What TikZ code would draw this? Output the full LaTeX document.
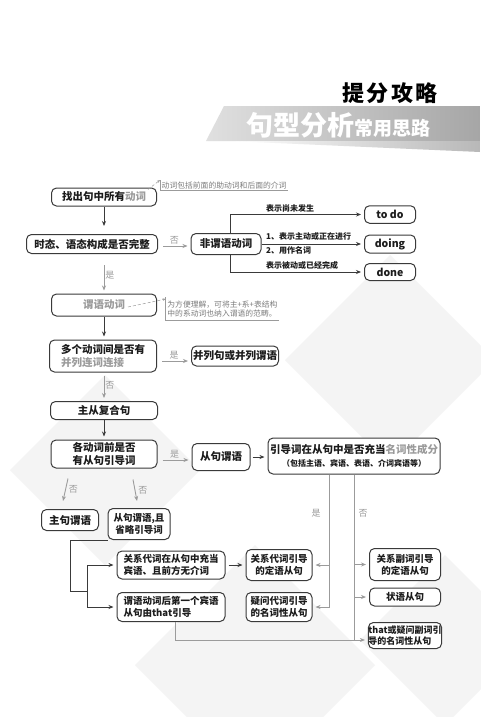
\documentclass[tikz,border=0pt]{standalone}
\usepackage{fontspec}
\setmainfont{Noto Sans CJK SC}
\usepackage{tikz}
\usetikzlibrary{
  arrows.meta,
  positioning,
  calc
}
\definecolor{fcLine}{HTML}{3A3A3A}
\definecolor{fcText}{HTML}{1C1C1C}
\definecolor{fcMute}{HTML}{9B9B9B}
\definecolor{fcBand}{HTML}{A6A6A6}
\definecolor{fcBack}{HTML}{F4F4F4}
\tikzset{
  fcbox/.style={
    draw=fcLine, line width=1pt, rounded corners=5pt, fill=white,
    inner sep=0pt, align=center, text=fcText,
    font=\bfseries\fontsize{10.5}{13}\selectfont
  },
  fcsmall/.style={fcbox, font=\bfseries\fontsize{9.5}{12}\selectfont},
  headline/.style={font=\bfseries\fontsize{22}{22}\selectfont\addfontfeature{LetterSpace=12}, text=black},
  bannertext/.style={font=\bfseries, text=white, inner sep=0pt},
  backdrop/.style={fill=fcBack, draw=none},
  flow/.style={-{Stealth[length=5pt, width=4pt]}, line width=0.9pt, fcLine, shorten >=3pt},
  flowmute/.style={-{Stealth[length=5pt, width=4pt]}, line width=0.9pt, fcMute, shorten >=3pt},
  link/.style={line width=0.9pt, fcLine},
  linkmute/.style={line width=0.9pt, fcMute},
  tag/.style={font=\bfseries\fontsize{8}{9}\selectfont, text=fcText, inner sep=1pt, anchor=west},
  yesno/.style={font=\fontsize{9}{10}\selectfont, text=fcMute, inner sep=1pt},
  note/.style={font=\fontsize{7.8}{9}\selectfont, text=fcMute!80!black, align=left, inner sep=1.5pt},
  notelink/.style={densely dashed, fcMute, line width=0.5pt, -{Stealth[length=3pt, width=2.5pt]}},
  notebar/.style={fcMute, line width=0.6pt}
}

\begin{document}
\begin{tikzpicture}[x=1pt, y=-1pt]
  \useasboundingbox (0,0) rectangle (480,717);
  \fill[white] (0,0) rectangle (480,717);
  \foreach \cx/\cy/\r in {390/360/105, 105/470/95, 255/665/120, 445/640/85}{
    \fill[backdrop] (\cx-\r,\cy) -- (\cx,\cy-\r) -- (\cx+\r,\cy) -- (\cx,\cy+\r) -- cycle;
  }

  % heading
  \node[headline] (head) at (390,93) {提分攻略};
  \shade[left color=fcBand!35, right color=fcBand] (224,106) -- (480,106) -- (480,141) -- (206,141) -- cycle;
  \shade[left color=white, right color=fcBand!80] (230,141) -- (480,141) -- (480,152) -- cycle;
  \node[bannertext, anchor=base west] (banner) at (246,135)
    {{\fontsize{27}{27}\selectfont 句型分析}{\fontsize{19}{19}\selectfont 常用思路}};

  % boxes
  \node[fcbox, minimum width=105pt, minimum height=18pt] (find) at (104,197) {找出句中所有\textcolor{fcMute}{动词}};
  \node[fcbox, minimum width=131pt, minimum height=19pt] (tense) at (92,244) {时态、语态构成是否完整};
  \node[fcbox, minimum width=70pt, minimum height=21pt] (nonpred) at (226,244) {非谓语动词};
  \node[fcbox, minimum width=51pt, minimum height=17.5pt] (todo) at (390,214.5) {to do};
  \node[fcbox, minimum width=51pt, minimum height=18pt] (doing) at (390,244) {doing};
  \node[fcbox, minimum width=51pt, minimum height=17pt] (done) at (390,272) {done};
  \node[fcbox, minimum width=105pt, minimum height=22pt, text=fcMute] (pred) at (104,305) {谓语动词};
  \node[fcbox, minimum width=107pt, minimum height=32pt, align=left] (multi) at (103,356)
    {多个动词间是否有\\\textcolor{fcMute}{并列连词连接}};
  \node[fcbox, minimum width=87pt, minimum height=20pt] (coord) at (235,356) {并列句或并列谓语};
  \node[fcbox, minimum width=107pt, minimum height=18pt] (complex) at (104,410.5) {主从复合句};
  \node[fcbox, minimum width=106pt, minimum height=28pt] (intro) at (104,454) {各动词前是否\\有从句引导词};
  \node[fcbox, minimum width=58pt, minimum height=27pt] (subpred) at (221,457) {从句谓语};
  \node[fcbox, minimum width=172pt, minimum height=36pt] (role) at (354,456)
    {引导词在从句中是否充当\textcolor{fcMute}{名词性成分}\\{\fontsize{8}{11}\selectfont（包括主语、宾语、表语、介词宾语等）}};
  \node[fcbox, minimum width=57pt, minimum height=21pt] (mainpred) at (70,520) {主句谓语};
  \node[fcsmall, minimum width=62pt, minimum height=31pt] (omit) at (139,524) {从句谓语,且\\省略引导词};
  \node[fcsmall, minimum width=108pt, minimum height=28pt, align=left] (relobj) at (171,565)
    {关系代词在从句中充当\\宾语、且前方无介词};
  \node[fcsmall, minimum width=108pt, minimum height=29pt, align=left] (thatobj) at (171,607)
    {谓语动词后第一个宾语\\从句由that引导};
  \node[fcsmall, minimum width=66pt, minimum height=31pt] (relattr) at (279,565) {关系代词引导\\的定语从句};
  \node[fcsmall, minimum width=66pt, minimum height=29pt] (whnoun) at (279,607) {疑问代词引导\\的名词性从句};
  \node[fcsmall, minimum width=71pt, minimum height=32pt] (advattr) at (405,564.5) {关系副词引导\\的定语从句};
  \node[fcsmall, minimum width=71pt, minimum height=18pt] (advcl) at (405,597) {状语从句};
  \node[fcsmall, minimum width=71pt, minimum height=26pt, align=left, font=\bfseries\fontsize{9}{11}\selectfont] (thatnoun) at (405,635.5)
    {that或疑问副词引\\导的名词性从句};

  % notes
  \node[note, anchor=south west] (note1) at (160,190.7) {动词包括前面的助动词和后面的介词};
  \draw[notebar] (note1.north west) |- (note1.south east);
  \draw[notelink] ($(find.north east)+(-9,2)$) -- (note1.north west);
  \node[note, anchor=north west, inner ysep=3.5pt] (note2) at (165.7,297)
    {为方便理解，可将主+系+表结构\\中的系动词也纳入谓语的范畴。};
  \draw[notebar] (note2.north west) |- (note2.south east);
  \draw[notelink] ($(pred.center)+(24,2)$) -- ($(note2.north west)+(0,2)$);

  % top part
  \draw[flow, shorten >=8pt] (find.south) -- (find.south |- tense.north);
  \draw[flowmute, shorten <=5pt] ($(tense.east)+(0,2)$) -- ($(nonpred.west)+(0,2)$)
    node[yesno, midway, above] {否};
  \draw[flow] ([xshift=4pt]nonpred.north) |- (todo.west);
  \draw[flow] (nonpred.east) -- (doing.west);
  \draw[flow] ([xshift=4pt]nonpred.south) |- (done.west);
  \node[tag] (t1) at (265,208) {表示尚未发生};
  \node[tag] (t2) at (265,236.5) {1、表示主动或正在进行};
  \node[tag] (t3) at (265,250) {2、用作名词};
  \node[tag] (t4) at (265,265) {表示被动或已经完成};
  \draw[flowmute, shorten <=11pt] (pred.north |- tense.south) -- (pred.north)
    node[yesno, pos=0.55, right] {是};
  \draw[flow] (pred.south) -- (pred.south |- multi.north);
  \draw[flowmute, shorten <=5pt] ($(multi.east)+(0,5)$) -- ($(coord.west)+(0,5)$)
    node[yesno, midway, above] {是};
  \draw[flowmute, shorten <=3pt] (complex.north |- multi.south) -- (complex.north)
    node[yesno, pos=0.45, right] {否};
  \draw[flow] (complex.south) -- (complex.south |- intro.north);

  % clauses
  \draw[flowmute, shorten <=5pt] ($(intro.east)+(0,6)$) -- ($(subpred.west)+(0,3)$)
    node[yesno, midway, above] {是};
  \draw[flow, shorten <=2pt] (subpred.east) -- (subpred.east -| role.west);
  \draw[flowmute, shorten >=0pt] ($(intro.south)+(-36,10)$) -- ($(mainpred.north)+(-7,-8)$)
    node[yesno, pos=0.5, right=2pt] {否};
  \draw[flowmute, shorten >=0pt] ($(intro.south)+(29,11)$) -- ($(omit.north)+(-2,-7)$)
    node[yesno, pos=0.5, right=2pt] {否};

  \coordinate (turn) at (70,591);
  \coordinate (split) at (87,591);
  \draw[link] (omit.south west) -| (turn) -- (split);
  \draw[flow] (split) |- (relobj.west);
  \draw[flow] (split) |- (thatobj.west);
  \draw[flow, shorten <=3pt] (relobj.east) -- (relobj.east -| relattr.west);

  \coordinate (yesline) at ($(role.south)+(-25,0)$);
  \coordinate (noend) at (role.south |- 0,640);
  \draw[flowmute] (yesline) |- (whnoun.east);
  \draw[flowmute] (yesline |- relattr.east) -- (relattr.east);
  \node[yesno] (yes) at (316,513) {是};
  \draw[linkmute] (role.south) -- (noend);
  \node[yesno] (no) at (363,513) {否};
  \draw[flowmute] (role.south |- advattr.west) -- (advattr.west);
  \draw[flowmute] (role.south |- advcl.west) -- (advcl.west);
  \draw[linkmute] ([xshift=4pt]thatobj.south) |- (noend);
  \draw[flowmute] (noend) -- (noend -| thatnoun.west);
\end{tikzpicture}
\end{document}
